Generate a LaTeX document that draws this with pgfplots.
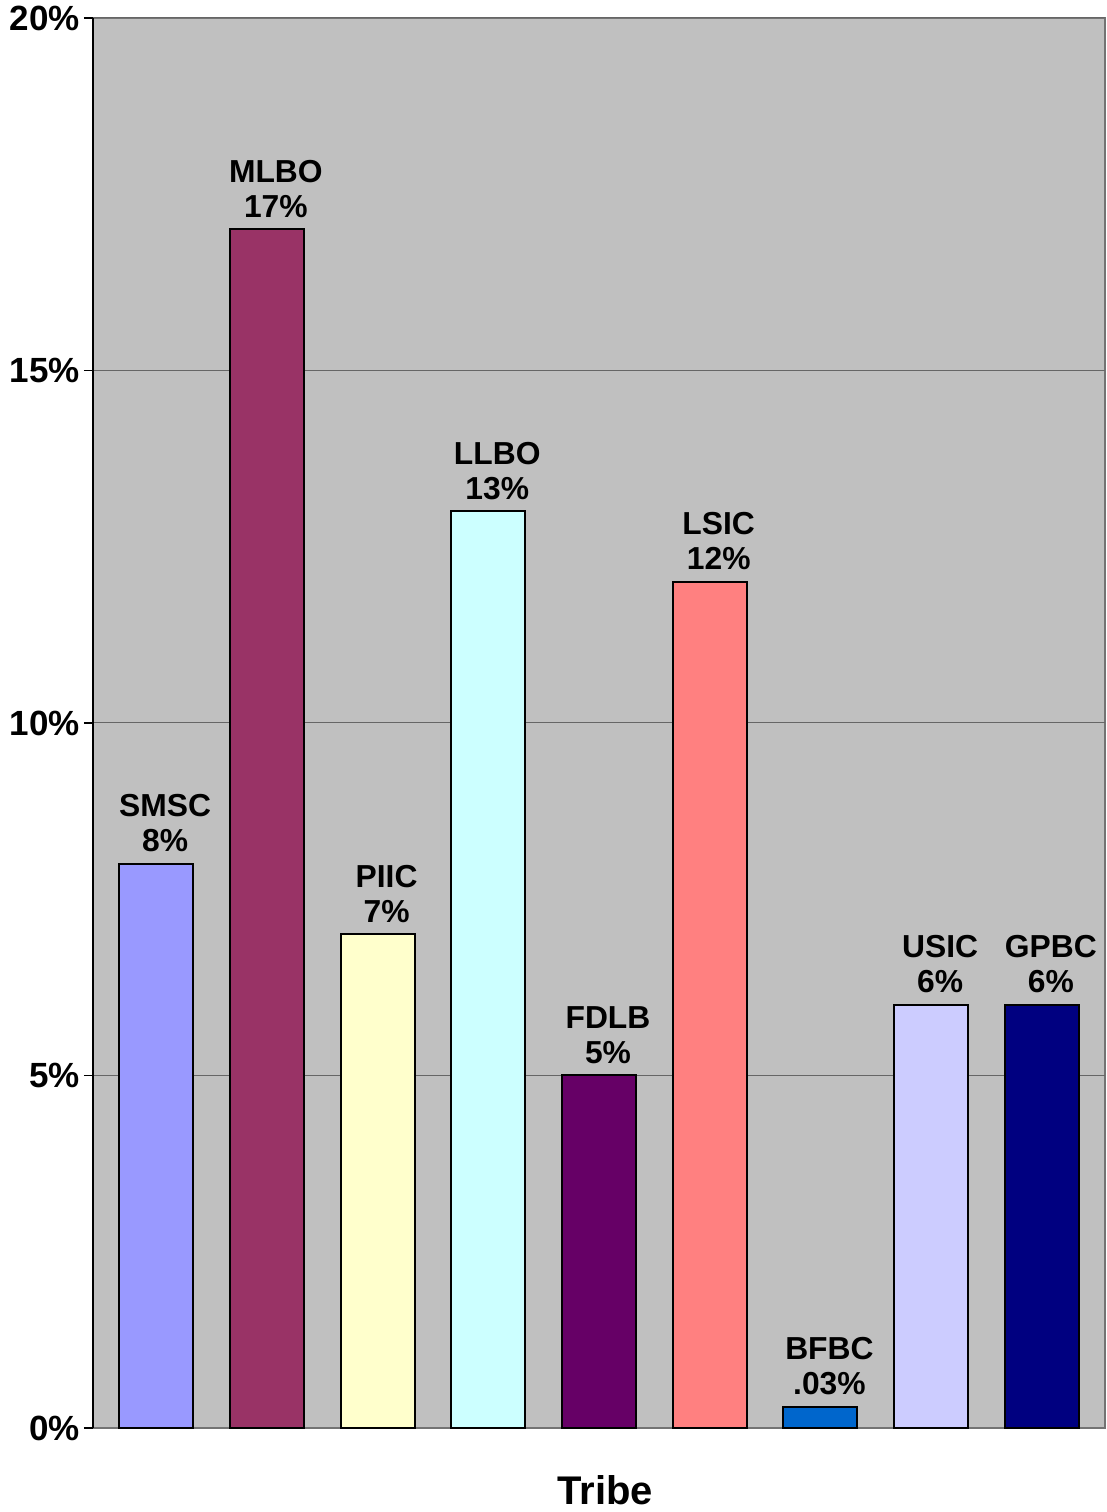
\documentclass[border=0pt]{standalone}
\usepackage{fontspec}
\setmainfont{Liberation Sans}
\usepackage{pgfplots}
\pgfplotsset{compat=1.18}

\definecolor{plotbg}{HTML}{C0C0C0}
\definecolor{cSMSC}{HTML}{9999FF}
\definecolor{cMLBO}{HTML}{993366}
\definecolor{cPIIC}{HTML}{FFFFCC}
\definecolor{cLLBO}{HTML}{CCFFFF}
\definecolor{cFDLB}{HTML}{660066}
\definecolor{cLSIC}{HTML}{FF8080}
\definecolor{cBFBC}{HTML}{0066CC}
\definecolor{cUSIC}{HTML}{CCCCFF}
\definecolor{cGPBC}{HTML}{000080}

\newcommand{\lbl}{\bfseries\fontsize{15.9}{17.5}\selectfont}
\newcommand{\tlbl}{\bfseries\fontsize{17.5}{20}\selectfont}

\pgfplotsset{
  tribebar/.style={
    ybar, bar width=37pt, bar shift=0pt, draw=black, line width=1pt,
    fill=#1,
    nodes near coords align={vertical},
  },
}

\begin{document}
\begin{tikzpicture}
\useasboundingbox (0,0) rectangle (553.5pt,756pt);
\begin{axis}[
  at={(46.5pt,42pt)}, anchor=south west,
  scale only axis, width=506pt, height=705pt,
  xmin=-0.57, xmax=8.57, ymin=0, ymax=20,
  axis background/.style={fill=plotbg, draw=gray!90!black, line width=0.8pt},
  axis lines*=left,
  x axis line style={draw=gray!90!black, line width=0.8pt, -},
  y axis line style={draw=black, line width=0.8pt, -},
  xtick=\empty,
  ytick={0,5,10,15,20},
  yticklabels={0\%,5\%,10\%,15\%,20\%},
  tick align=outside, major tick length=4.5pt,
  ytick style={draw=black, line width=0.6pt},
  yticklabel style={font=\tlbl, inner sep=1pt, xshift=-1pt},
  ymajorgrids, grid style={draw=black!60, line width=0.5pt},
  xlabel={Tribe},
  xlabel style={at={(axis description cs:0.5,0)}, anchor=base, yshift=-38.5pt, xshift=3pt,
    font=\bfseries\fontsize{20}{24}\selectfont},
  every node near coord/.append style={font=\lbl, align=center, anchor=south,
    inner sep=2pt, yshift=3.5pt, xshift=4.5pt, text=black},
  clip=false,
]
\addplot[tribebar=cSMSC, nodes near coords={SMSC\\8\%}] coordinates {(0,8)};
\addplot[tribebar=cMLBO, nodes near coords={MLBO\\17\%}] coordinates {(1,17)};
\addplot[tribebar=cPIIC, nodes near coords={PIIC\\7\%}] coordinates {(2,7)};
\addplot[tribebar=cLLBO, nodes near coords={LLBO\\13\%}] coordinates {(3,13)};
\addplot[tribebar=cFDLB, nodes near coords={FDLB\\5\%}] coordinates {(4,5)};
\addplot[tribebar=cLSIC, nodes near coords={LSIC\\12\%}] coordinates {(5,12)};
\addplot[tribebar=cBFBC, nodes near coords={BFBC\\.03\%}] coordinates {(6,0.3)};
\addplot[tribebar=cUSIC, nodes near coords={USIC\\6\%}] coordinates {(7,6)};
\addplot[tribebar=cGPBC, nodes near coords={GPBC\\6\%}] coordinates {(8,6)};
\end{axis}
\end{tikzpicture}
\end{document}
